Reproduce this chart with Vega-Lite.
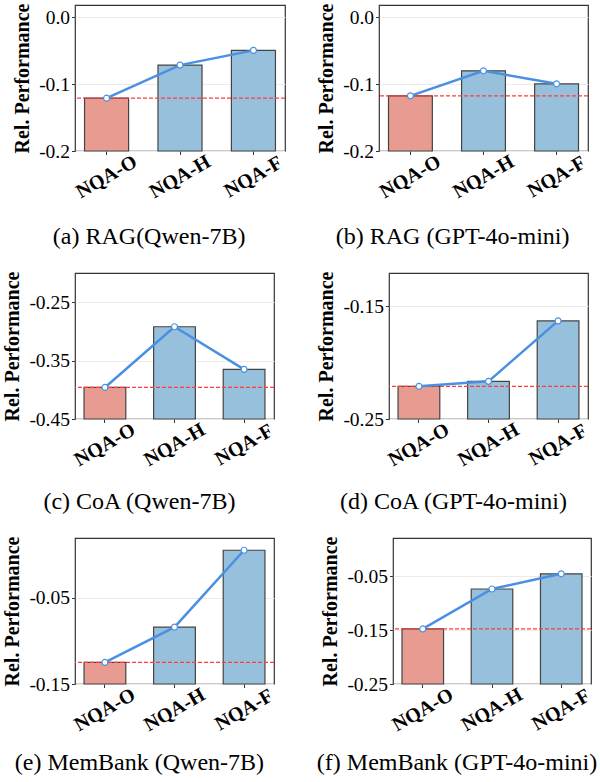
{
  "$schema": "https://vega.github.io/schema/vega-lite/v6.json",
  "padding": {"left": 2, "top": 2, "right": 0, "bottom": 0},
  "background": "white",
  "data": {"values": [
    {"panel": "a", "cond": "NQA-O", "value": -0.121},
    {"panel": "a", "cond": "NQA-H", "value": -0.0715},
    {"panel": "a", "cond": "NQA-F", "value": -0.0495},
    {"panel": "b", "cond": "NQA-O", "value": -0.1175},
    {"panel": "b", "cond": "NQA-H", "value": -0.080},
    {"panel": "b", "cond": "NQA-F", "value": -0.0995},
    {"panel": "c", "cond": "NQA-O", "value": -0.396},
    {"panel": "c", "cond": "NQA-H", "value": -0.292},
    {"panel": "c", "cond": "NQA-F", "value": -0.365},
    {"panel": "d", "cond": "NQA-O", "value": -0.221},
    {"panel": "d", "cond": "NQA-H", "value": -0.2166},
    {"panel": "d", "cond": "NQA-F", "value": -0.163},
    {"panel": "e", "cond": "NQA-O", "value": -0.125},
    {"panel": "e", "cond": "NQA-H", "value": -0.084},
    {"panel": "e", "cond": "NQA-F", "value": 0.0053},
    {"panel": "f", "cond": "NQA-O", "value": -0.148},
    {"panel": "f", "cond": "NQA-H", "value": -0.074},
    {"panel": "f", "cond": "NQA-F", "value": -0.0458}
  ]},
  "columns": 2,
  "align": "none",
  "spacing": {"column": 29, "row": 20},
  "concat": [
      {"width": 210, "height": 146, "title": {"text": "(a) RAG(Qwen-7B)", "offset": 23},
       "transform": [{"filter": "datum.panel == 'a'"}],
       "encoding": {"y": {"field": "value", "type": "quantitative", "scale": {"domain": [-0.2, 0.0184], "zero": false, "nice": false}, "axis": {"values": [-0.2, -0.1, 0.0], "format": ".1f", "title": "Rel. Performance"}}},
       "layer": [
         {"mark": {"type": "bar", "stroke": "#444", "strokeWidth": 1.2}, "encoding": {"x": {"field": "cond", "type": "nominal", "sort": ["NQA-O", "NQA-H", "NQA-F"], "scale": {"paddingInner": 0.4, "paddingOuter": 0.13}, "axis": {"title": null, "labelAngle": -30, "labelAlign": "center", "labelBaseline": "middle", "labelPadding": 22, "labelFontWeight": "bold", "labelFontSize": 20, "grid": false}}, "y2": {"datum": -0.2}, "fill": {"condition": {"test": "datum.cond == 'NQA-O'", "value": "#e89c91"}, "value": "#97c0dc"}}},
         {"transform": [{"filter": "datum.cond == 'NQA-O'"}], "mark": {"type": "rule", "stroke": "#ff3b3b", "strokeDash": [4, 2], "strokeWidth": 1.2}, "encoding": {}},
         {"mark": {"type": "line", "color": "#4a90e2", "strokeWidth": 2.5}, "encoding": {"x": {"field": "cond", "type": "nominal", "sort": ["NQA-O", "NQA-H", "NQA-F"]}}},
         {"mark": {"type": "point", "filled": true, "fill": "white", "stroke": "#4a90e2", "strokeWidth": 1.2, "size": 36, "opacity": 1}, "encoding": {"x": {"field": "cond", "type": "nominal", "sort": ["NQA-O", "NQA-H", "NQA-F"]}}}
       ]},
      {"width": 209, "height": 146, "title": {"text": "(b) RAG (GPT-4o-mini)", "offset": 23},
       "transform": [{"filter": "datum.panel == 'b'"}],
       "encoding": {"y": {"field": "value", "type": "quantitative", "scale": {"domain": [-0.2, 0.0184], "zero": false, "nice": false}, "axis": {"values": [-0.2, -0.1, 0.0], "format": ".1f", "title": "Rel. Performance"}}},
       "layer": [
         {"mark": {"type": "bar", "stroke": "#444", "strokeWidth": 1.2}, "encoding": {"x": {"field": "cond", "type": "nominal", "sort": ["NQA-O", "NQA-H", "NQA-F"], "scale": {"paddingInner": 0.4, "paddingOuter": 0.13}, "axis": {"title": null, "labelAngle": -30, "labelAlign": "center", "labelBaseline": "middle", "labelPadding": 22, "labelFontWeight": "bold", "labelFontSize": 20, "grid": false}}, "y2": {"datum": -0.2}, "fill": {"condition": {"test": "datum.cond == 'NQA-O'", "value": "#e89c91"}, "value": "#97c0dc"}}},
         {"transform": [{"filter": "datum.cond == 'NQA-O'"}], "mark": {"type": "rule", "stroke": "#ff3b3b", "strokeDash": [4, 2], "strokeWidth": 1.2}, "encoding": {}},
         {"mark": {"type": "line", "color": "#4a90e2", "strokeWidth": 2.5}, "encoding": {"x": {"field": "cond", "type": "nominal", "sort": ["NQA-O", "NQA-H", "NQA-F"]}}},
         {"mark": {"type": "point", "filled": true, "fill": "white", "stroke": "#4a90e2", "strokeWidth": 1.2, "size": 36, "opacity": 1}, "encoding": {"x": {"field": "cond", "type": "nominal", "sort": ["NQA-O", "NQA-H", "NQA-F"]}}}
       ]},
      {"width": 199, "height": 146, "title": {"text": "(c) CoA (Qwen-7B)", "offset": 20},
       "transform": [{"filter": "datum.panel == 'c'"}],
       "encoding": {"y": {"field": "value", "type": "quantitative", "scale": {"domain": [-0.45, -0.2], "zero": false, "nice": false}, "axis": {"values": [-0.45, -0.35, -0.25], "format": ".2f", "title": "Rel. Performance"}}},
       "layer": [
         {"mark": {"type": "bar", "stroke": "#444", "strokeWidth": 1.2}, "encoding": {"x": {"field": "cond", "type": "nominal", "sort": ["NQA-O", "NQA-H", "NQA-F"], "scale": {"paddingInner": 0.4, "paddingOuter": 0.13}, "axis": {"title": null, "labelAngle": -30, "labelAlign": "center", "labelBaseline": "middle", "labelPadding": 22, "labelFontWeight": "bold", "labelFontSize": 20, "grid": false}}, "y2": {"datum": -0.45}, "fill": {"condition": {"test": "datum.cond == 'NQA-O'", "value": "#e89c91"}, "value": "#97c0dc"}}},
         {"transform": [{"filter": "datum.cond == 'NQA-O'"}], "mark": {"type": "rule", "stroke": "#ff3b3b", "strokeDash": [4, 2], "strokeWidth": 1.2}, "encoding": {}},
         {"mark": {"type": "line", "color": "#4a90e2", "strokeWidth": 2.5}, "encoding": {"x": {"field": "cond", "type": "nominal", "sort": ["NQA-O", "NQA-H", "NQA-F"]}}},
         {"mark": {"type": "point", "filled": true, "fill": "white", "stroke": "#4a90e2", "strokeWidth": 1.2, "size": 36, "opacity": 1}, "encoding": {"x": {"field": "cond", "type": "nominal", "sort": ["NQA-O", "NQA-H", "NQA-F"]}}}
       ]},
      {"width": 199, "height": 146, "title": {"text": "(d) CoA (GPT-4o-mini)", "offset": 20},
       "transform": [{"filter": "datum.panel == 'd'"}],
       "encoding": {"y": {"field": "value", "type": "quantitative", "scale": {"domain": [-0.25, -0.1205], "zero": false, "nice": false}, "axis": {"values": [-0.25, -0.15], "format": ".2f", "title": "Rel. Performance"}}},
       "layer": [
         {"mark": {"type": "bar", "stroke": "#444", "strokeWidth": 1.2}, "encoding": {"x": {"field": "cond", "type": "nominal", "sort": ["NQA-O", "NQA-H", "NQA-F"], "scale": {"paddingInner": 0.4, "paddingOuter": 0.13}, "axis": {"title": null, "labelAngle": -30, "labelAlign": "center", "labelBaseline": "middle", "labelPadding": 22, "labelFontWeight": "bold", "labelFontSize": 20, "grid": false}}, "y2": {"datum": -0.25}, "fill": {"condition": {"test": "datum.cond == 'NQA-O'", "value": "#e89c91"}, "value": "#97c0dc"}}},
         {"transform": [{"filter": "datum.cond == 'NQA-O'"}], "mark": {"type": "rule", "stroke": "#ff3b3b", "strokeDash": [4, 2], "strokeWidth": 1.2}, "encoding": {}},
         {"mark": {"type": "line", "color": "#4a90e2", "strokeWidth": 2.5}, "encoding": {"x": {"field": "cond", "type": "nominal", "sort": ["NQA-O", "NQA-H", "NQA-F"]}}},
         {"mark": {"type": "point", "filled": true, "fill": "white", "stroke": "#4a90e2", "strokeWidth": 1.2, "size": 36, "opacity": 1}, "encoding": {"x": {"field": "cond", "type": "nominal", "sort": ["NQA-O", "NQA-H", "NQA-F"]}}}
       ]},
      {"width": 199, "height": 146, "title": {"text": "(e) MemBank (Qwen-7B)", "offset": 16},
       "transform": [{"filter": "datum.panel == 'e'"}],
       "encoding": {"y": {"field": "value", "type": "quantitative", "scale": {"domain": [-0.15, 0.0195], "zero": false, "nice": false}, "axis": {"values": [-0.15, -0.05], "format": ".2f", "title": "Rel. Performance"}}},
       "layer": [
         {"mark": {"type": "bar", "stroke": "#444", "strokeWidth": 1.2}, "encoding": {"x": {"field": "cond", "type": "nominal", "sort": ["NQA-O", "NQA-H", "NQA-F"], "scale": {"paddingInner": 0.4, "paddingOuter": 0.13}, "axis": {"title": null, "labelAngle": -30, "labelAlign": "center", "labelBaseline": "middle", "labelPadding": 22, "labelFontWeight": "bold", "labelFontSize": 20, "grid": false}}, "y2": {"datum": -0.15}, "fill": {"condition": {"test": "datum.cond == 'NQA-O'", "value": "#e89c91"}, "value": "#97c0dc"}}},
         {"transform": [{"filter": "datum.cond == 'NQA-O'"}], "mark": {"type": "rule", "stroke": "#ff3b3b", "strokeDash": [4, 2], "strokeWidth": 1.2}, "encoding": {}},
         {"mark": {"type": "line", "color": "#4a90e2", "strokeWidth": 2.5}, "encoding": {"x": {"field": "cond", "type": "nominal", "sort": ["NQA-O", "NQA-H", "NQA-F"]}}},
         {"mark": {"type": "point", "filled": true, "fill": "white", "stroke": "#4a90e2", "strokeWidth": 1.2, "size": 36, "opacity": 1}, "encoding": {"x": {"field": "cond", "type": "nominal", "sort": ["NQA-O", "NQA-H", "NQA-F"]}}}
       ]},
      {"width": 198, "height": 146, "title": {"text": "(f) MemBank (GPT-4o-mini)", "offset": 16},
       "transform": [{"filter": "datum.panel == 'f'"}],
       "encoding": {"y": {"field": "value", "type": "quantitative", "scale": {"domain": [-0.25, 0.0205], "zero": false, "nice": false}, "axis": {"values": [-0.25, -0.15, -0.05], "format": ".2f", "title": "Rel. Performance"}}},
       "layer": [
         {"mark": {"type": "bar", "stroke": "#444", "strokeWidth": 1.2}, "encoding": {"x": {"field": "cond", "type": "nominal", "sort": ["NQA-O", "NQA-H", "NQA-F"], "scale": {"paddingInner": 0.4, "paddingOuter": 0.13}, "axis": {"title": null, "labelAngle": -30, "labelAlign": "center", "labelBaseline": "middle", "labelPadding": 22, "labelFontWeight": "bold", "labelFontSize": 20, "grid": false}}, "y2": {"datum": -0.25}, "fill": {"condition": {"test": "datum.cond == 'NQA-O'", "value": "#e89c91"}, "value": "#97c0dc"}}},
         {"transform": [{"filter": "datum.cond == 'NQA-O'"}], "mark": {"type": "rule", "stroke": "#ff3b3b", "strokeDash": [4, 2], "strokeWidth": 1.2}, "encoding": {}},
         {"mark": {"type": "line", "color": "#4a90e2", "strokeWidth": 2.5}, "encoding": {"x": {"field": "cond", "type": "nominal", "sort": ["NQA-O", "NQA-H", "NQA-F"]}}},
         {"mark": {"type": "point", "filled": true, "fill": "white", "stroke": "#4a90e2", "strokeWidth": 1.2, "size": 36, "opacity": 1}, "encoding": {"x": {"field": "cond", "type": "nominal", "sort": ["NQA-O", "NQA-H", "NQA-F"]}}}
       ]}
  ],
  "config": {
    "font": "Liberation Serif",
    "locale": {"number": {"decimal": ".", "thousands": ",", "grouping": [3], "currency": ["$", ""], "minus": "-"}},
    "view": {"stroke": "#333", "strokeWidth": 1.2},
    "axis": {"domain": false, "tickColor": "#333", "tickSize": 3.5, "labelColor": "black", "titleColor": "black", "labelFont": "Liberation Serif", "titleFont": "Liberation Serif"},
    "axisY": {"gridColor": "#ebebeb", "gridWidth": 1, "labelFontSize": 19.5, "titleFontSize": 20, "titleFontWeight": "bold", "titlePadding": 6, "labelPadding": 2},
    "title": {"orient": "bottom", "fontSize": 24, "fontWeight": "normal", "color": "black", "anchor": "middle", "frame": "bounds", "font": "Liberation Serif"}
  }
}
